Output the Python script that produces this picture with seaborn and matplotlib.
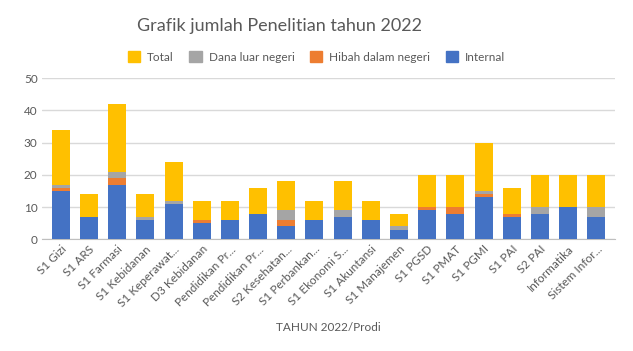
import matplotlib
matplotlib.use("Agg")
import matplotlib.pyplot as plt
import seaborn as sns
import pandas as pd
import numpy as np
from matplotlib.patches import Patch

prodi = ["S1 Gizi", "S1 ARS", "S1 Farmasi", "S1 Kebidanan", "S1 Keperawat...",
         "D3 Kebidanan", "Pendidikan Pr...", "Pendidikan Pr...", "S2 Kesehatan...",
         "S1 Perbankan...", "S1 Ekonomi S...", "S1 Akuntansi", "S1 Manajemen",
         "S1 PGSD", "S1 PMAT", "S1 PGMI", "S1 PAI", "S2 PAI", "Informatika",
         "Sistem Infor..."]
internal = [15, 7, 17, 6, 11, 5, 6, 8, 4, 6, 7, 6, 3, 9, 8, 13, 7, 8, 10, 7]
hibah = [1, 0, 2, 0, 0, 1, 0, 0, 2, 0, 0, 0, 0, 1, 2, 1, 1, 0, 0, 0]
dana = [1, 0, 2, 1, 1, 0, 0, 0, 3, 0, 2, 0, 1, 0, 0, 1, 0, 2, 0, 3]
total = [17, 7, 21, 7, 12, 6, 6, 8, 9, 6, 9, 6, 4, 10, 10, 15, 8, 10, 10, 10]

colors = {"Internal": "#4472C4", "Hibah dalam negeri": "#ED7D31",
          "Dana luar negeri": "#A5A5A5", "Total": "#FFC000"}

sns.set_style("white")
plt.rcParams["font.family"] = ["Lato", "DejaVu Sans"]

df = pd.DataFrame({"idx": list(range(len(prodi))), "Internal": internal,
                   "Hibah dalam negeri": hibah, "Dana luar negeri": dana,
                   "Total": total})
df["c_int"] = df["Internal"]
df["c_hib"] = df["c_int"] + df["Hibah dalam negeri"]
df["c_dana"] = df["c_hib"] + df["Dana luar negeri"]
df["c_tot"] = df["c_dana"] + df["Total"]

fig = plt.figure(figsize=(6.33, 3.51), dpi=100)
ax = fig.add_axes([0.066, 0.318, 0.906, 0.459])

for col, name in [("c_tot", "Total"), ("c_dana", "Dana luar negeri"),
                  ("c_hib", "Hibah dalam negeri"), ("c_int", "Internal")]:
    sns.barplot(data=df, x="idx", y=col, color=colors[name], width=0.64,
                saturation=1, ax=ax, linewidth=0, zorder=3)

ax.set_xlim(-0.675, len(prodi) - 1 + 0.675)
ax.set_ylim(0, 50)
ax.set_yticks(range(0, 51, 10))
ax.yaxis.grid(True, color="#D9D9D9", linewidth=1, zorder=0)
ax.set_axisbelow(True)
for s in ["top", "right", "left"]:
    ax.spines[s].set_visible(False)
ax.spines["bottom"].set_color("#BFBFBF")
ax.tick_params(axis="both", length=0, labelsize=8.5, colors="#595959", pad=3)
ax.set_xticks(range(len(prodi)))
ax.set_xticklabels(prodi, rotation=45, ha="right", rotation_mode="anchor")
ax.set_ylabel("")
ax.set_xlabel("")

fig.text(0.518, 0.068, "TAHUN 2022/Prodi", ha="center", va="center",
         fontsize=8.5, color="#595959")
fig.text(0.441, 0.926, "Grafik jumlah Penelitian tahun 2022", ha="center",
         va="center", fontsize=13, color="#595959")

names = ["Total", "Dana luar negeri", "Hibah dalam negeri", "Internal"]
handles = [Patch(color=colors[n]) for n in names]
fig.legend(handles, names,
           loc="center", bbox_to_anchor=(0.5, 0.838), ncol=4, frameon=False,
           fontsize=8.5, labelcolor="#595959", handlelength=1.05, handleheight=1.05,
           columnspacing=1.3, handletextpad=0.6)

fig.savefig("out.png", dpi=100)
